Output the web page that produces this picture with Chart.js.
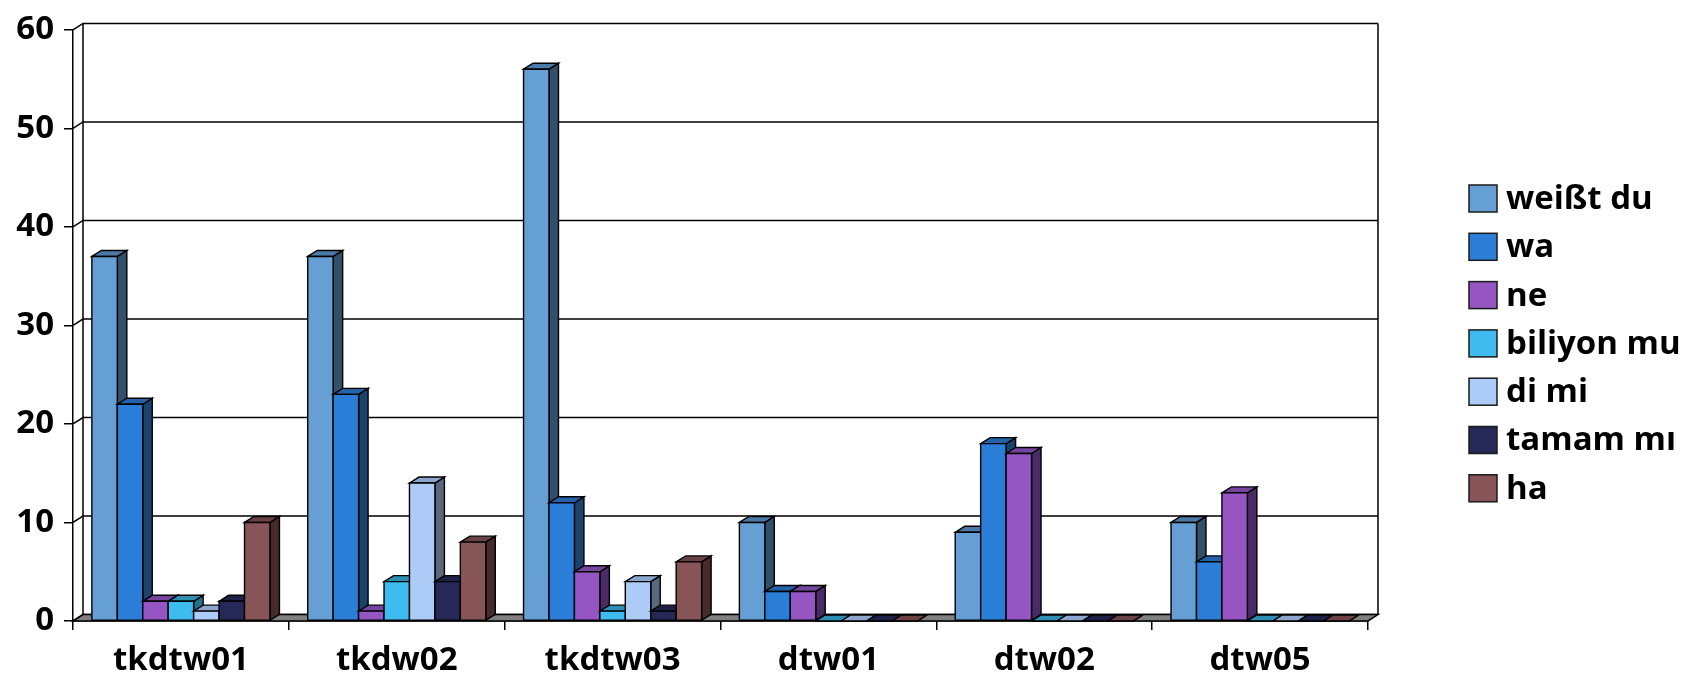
<!DOCTYPE html>
<html>
<head>
<meta charset="utf-8">
<script src="https://cdn.jsdelivr.net/npm/chart.js@4.4.1/dist/chart.umd.min.js"></script>
<style>
  html, body { margin: 0; padding: 0; background: #ffffff; }
  canvas { display: block; }
</style>
</head>
<body>
<canvas id="c" width="1702" height="677"></canvas>
<script>
// Categories and per-series counts
const categories = ['tkdtw01', 'tkdw02', 'tkdtw03', 'dtw01', 'dtw02', 'dtw05'];
const weisstDu  = [37, 37, 56, 10, 9, 10];
const wa        = [22, 23, 12, 3, 18, 6];
const ne        = [2, 1, 5, 3, 17, 13];
const biliyonMu = [2, 4, 1, 0, 0, 0];
const diMi      = [1, 14, 4, 0, 0, 0];
const tamamMi   = [2, 4, 1, 0, 0, 0];
const ha        = [10, 8, 6, 0, 0, 0];
const yTicks    = [0, 10, 20, 30, 40, 50, 60];

const seriesNames  = ['weißt du', 'wa', 'ne', 'biliyon mu', 'di mi', 'tamam mı', 'ha'];
const seriesValues = [weisstDu, wa, ne, biliyonMu, diMi, tamamMi, ha];

// Face colours: front, top, right side
const frontColors = ['#659FD3', '#2B7ED8', '#9556C4', '#3EBCEF', '#ADCBF7', '#262857', '#875557'];
const topColors   = ['#4C7AA6', '#2463AA', '#7645A0', '#2E8FB4', '#8CA5CC', '#1F2048', '#6A4244'];
const sideColors  = ['#33506A', '#1C436E', '#4A2B66', '#25708E', '#5A687E', '#16173A', '#472A2C'];

const FONT = '"Open Sans", "DejaVu Sans", sans-serif';
const WALL_DX = 10, WALL_DY = 6.4;   // depth of the back wall
const BAR_DX = 9.5, BAR_DY = 6;      // depth of each column
const EDGE = '#000000';

function poly(ctx, pts, fill) {
  ctx.beginPath();
  ctx.moveTo(pts[0][0], pts[0][1]);
  for (let i = 1; i < pts.length; i++) ctx.lineTo(pts[i][0], pts[i][1]);
  ctx.closePath();
  ctx.fillStyle = fill;
  ctx.fill();
  ctx.stroke();
}

// Draws the walls, floor and extruded columns, then the series key
const depthPlugin = {
  id: 'depth3d',
  beforeDatasetsDraw(chart) {
    const { ctx, chartArea: a, scales: { y } } = chart;
    ctx.save();
    ctx.lineJoin = 'miter';
    ctx.strokeStyle = EDGE;
    ctx.lineWidth = 1.5;

    // back wall gridlines with their left-wall connectors
    y.ticks.forEach(t => {
      const py = y.getPixelForValue(t.value);
      ctx.beginPath();
      ctx.moveTo(a.left, py);
      ctx.lineTo(a.left + WALL_DX, py - WALL_DY);
      ctx.lineTo(a.right + WALL_DX, py - WALL_DY);
      ctx.stroke();
    });
    ctx.beginPath();
    ctx.moveTo(a.left + WALL_DX, a.top - WALL_DY);
    ctx.lineTo(a.left + WALL_DX, a.bottom - WALL_DY);
    ctx.moveTo(a.right + WALL_DX, a.top - WALL_DY);
    ctx.lineTo(a.right + WALL_DX, a.bottom - WALL_DY);
    ctx.stroke();

    // floor
    poly(ctx, [[a.left, a.bottom], [a.right, a.bottom],
               [a.right + WALL_DX, a.bottom - WALL_DY], [a.left + WALL_DX, a.bottom - WALL_DY]], '#808080');

    // columns, left to right so each front face hides its neighbour's side
    const metas = chart.data.datasets.map((d, i) => chart.getDatasetMeta(i));
    ctx.lineWidth = 1.4;
    for (let c = 0; c < categories.length; c++) {
      for (let s = 0; s < metas.length; s++) {
        const el = metas[s].data[c];
        const { x, y: top, base, width } = el.getProps(['x', 'y', 'base', 'width'], true);
        const l = x - width / 2, r = x + width / 2;
        poly(ctx, [[r, top], [r + BAR_DX, top - BAR_DY], [r + BAR_DX, base - BAR_DY], [r, base]], sideColors[s]);
        poly(ctx, [[l, top], [l + BAR_DX, top - BAR_DY], [r + BAR_DX, top - BAR_DY], [r, top]], topColors[s]);
        if (base - top > 0.5) poly(ctx, [[l, top], [r, top], [r, base], [l, base]], frontColors[s]);
      }
    }
    ctx.restore();
    return false;
  },
  afterDraw(chart) {
    const { ctx } = chart;
    const boxX = 1469, boxW = 28, boxH = 27, top0 = 185, step = 48.3, textX = 1506;
    ctx.save();
    ctx.font = 'bold 33px ' + FONT;
    ctx.textBaseline = 'middle';
    ctx.textAlign = 'left';
    chart.data.datasets.forEach((ds, i) => {
      const yTop = top0 + i * step;
      ctx.fillStyle = frontColors[i];
      ctx.fillRect(boxX, yTop, boxW, boxH);
      ctx.strokeStyle = '#1a1a1a';
      ctx.lineWidth = 1.5;
      ctx.strokeRect(boxX, yTop, boxW, boxH);
      ctx.fillStyle = '#000000';
      ctx.fillText(ds.label, textX, yTop + boxH / 2 + 1);
    });
    ctx.restore();
  }
};

const tickFont = { family: FONT, size: 33, weight: 'bold' };

new Chart(document.getElementById('c'), {
  type: 'bar',
  data: {
    labels: categories,
    datasets: seriesNames.map((name, i) => ({
      label: name,
      data: seriesValues[i],
      backgroundColor: frontColors[i],
      categoryPercentage: 0.825,
      barPercentage: 1.0
    }))
  },
  options: {
    responsive: false,
    animation: false,
    events: [],
    layout: { padding: { top: 25.7, right: 334, left: 0, bottom: 0 } },
    plugins: { legend: { display: false }, tooltip: { enabled: false } },
    scales: {
      x: {
        z: 1,
        grid: { drawOnChartArea: false, drawTicks: true, tickLength: 9, color: EDGE, lineWidth: 1.5, offset: true },
        border: { display: true, color: EDGE, width: 1.5 },
        ticks: { font: tickFont, color: '#000000', padding: 11, maxRotation: 0, autoSkip: false },
        afterFit(s) { s.height = 56; }
      },
      y: {
        z: 1,
        min: 0,
        max: 60,
        afterBuildTicks(s) { s.ticks = yTicks.map(v => ({ value: v })); },
        grid: { drawOnChartArea: false, drawTicks: true, tickLength: 9, color: EDGE, lineWidth: 1.5 },
        border: { display: true, color: EDGE, width: 1.5 },
        ticks: { font: tickFont, color: '#000000', padding: 10 },
        afterFit(s) { s.width = 73; }
      }
    }
  },
  plugins: [depthPlugin]
});
</script>
</body>
</html>
